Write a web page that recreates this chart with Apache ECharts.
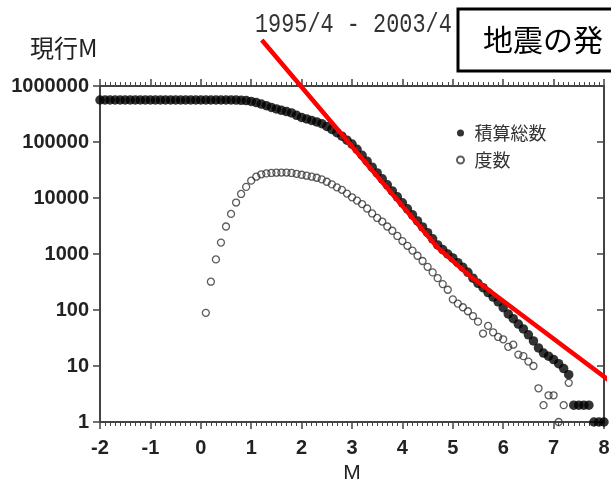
<!DOCTYPE html>
<html><head><meta charset="utf-8">
<script src="https://cdn.jsdelivr.net/npm/echarts@6/dist/echarts.min.js"></script>
<style>html,body{margin:0;padding:0;background:#fff}#c{width:611px;height:484px}</style>
</head><body><div id="c"></div>
<script>
// ---- data ----
const cumM = [-2.0,-1.9,-1.8,-1.7,-1.6,-1.5,-1.4,-1.3,-1.2,-1.1,-1.0,-0.9,-0.8,-0.7,-0.6,-0.5,-0.4,-0.3,-0.2,-0.1,0.0,0.1,0.2,0.3,0.4,0.5,0.6,
  0.7,0.8,0.9,1.0,1.1,1.2,1.3,1.4,1.5,1.6,1.7,1.8,1.9,2.0,2.1,2.2,2.3,2.4,2.5,2.6,2.7,2.8,2.9,3.0,3.1,3.2,3.3,3.4,3.5,3.6,
  3.7,3.8,3.9,4.0,4.1,4.2,4.3,4.4,4.5,4.6,4.7,4.8,4.9,5.0,5.1,5.2,5.3,5.4,5.5,5.6,5.7,5.8,5.9,6.0,6.1,6.2,6.3,6.4,6.5,6.6,
  6.7,6.8,6.9,7.0,7.1,7.2,7.3,7.4,7.5,7.6,7.7,7.8,7.9,8.0];
const cumCount = [562000,562000,562000,562000,562000,562000,562000,562000,562000,562000,562000,562000,562000,562000,562000,562000,562000,562000,562000,562000,562000,562000,562000,562000,562000,562000,562000,
  560000,556000,550000,530000,505000,475000,445000,415000,390000,368000,
  350000,330000,300000,275000,258000,242000,228000,212000,190000,168000,
  147000,127000,108000,92000,74000,58000,45500,35500,28000,22000,
  17200,13400,10500,8200,6400,5000,3900,3050,2400,1870,
  1450,1200,1000,850,700,580,470,370,300,250,
  205,170,140,110,85,70,56,46,36,28,
  21,17,15,13,11,9,7,2,2,2,2,1,1,1];
const freqM = [0.1,0.2,0.3,0.4,0.5,0.6,0.7,0.8,0.9,1.0,1.1,1.2,1.3,1.4,1.5,1.6,1.7,1.8,1.9,2.0,
  2.1,2.2,2.3,2.4,2.5,2.6,2.7,2.8,2.9,3.0,3.1,3.2,3.3,3.4,3.5,3.6,3.7,3.8,3.9,4.0,
  4.1,4.2,4.3,4.4,4.5,4.6,4.7,4.8,4.9,5.0,5.1,5.2,5.3,5.4,5.5,5.6,5.7,5.8,5.9,6.0,
  6.1,6.2,6.3,6.4,6.5,6.6,6.7,6.8,6.9,7.0,7.1,7.2,7.3];
const freqCount = [89,320,800,1600,3100,5200,8300,11800,15800,20400,24000,26500,27500,28000,28300,28500,28500,28000,27000,26000,
  25000,24000,23000,21500,19500,17500,15500,14000,12000,10300,9000,7800,6500,5300,4400,3800,3100,2600,2100,1700,
  1400,1150,930,750,590,470,370,290,230,155,130,112,95,78,62,38,52,40,33,30,
  22,24,16,15,12,10,4,2,3,3,1,2,5];
const redM = [1.21, 4.69, 5.34, 8.14];
const redVal = [6630000, 1334, 405, 5.2];
const xTicks = [-2,-1,0,1,2,3,4,5,6,7,8];
const yTickLabels = ['1','10','100','1000','10000','100000','1000000'];
const seriesNames = ['積算総数','度数'];

const zip = (a,b) => a.map((v,i)=>[v,b[i]]);
const chart = echarts.init(document.getElementById('c'), null, {renderer:'canvas'});
const axisCol = '#444';
const lblFont = {fontFamily:'"Liberation Sans", Arial, sans-serif', fontWeight:'bold', fontSize:20, color:'#222'};
chart.setOption({
  animation:false,
  backgroundColor:'#fff',
  grid:{left:100,right:7,top:86,bottom:62,containLabel:false,outerBoundsMode:'none'},
  legend:{
    left:451, top:118, orient:'vertical', itemWidth:18, itemHeight:7, itemGap:7,
    data:seriesNames,
    textStyle:{fontFamily:'"Noto Sans CJK JP", sans-serif', fontSize:18, lineHeight:20, color:'#333'}
  },
  xAxis:[{
    type:'value', min:-2, max:8, interval:1, position:'bottom',
    name:'M', nameLocation:'middle', nameGap:40,
    nameTextStyle:{fontFamily:'"Liberation Sans", Arial, sans-serif', fontSize:21, color:'#222'},
    axisLine:{show:true,onZero:false,lineStyle:{color:axisCol,width:2}},
    axisTick:{show:true,length:7,lineStyle:{color:axisCol,width:1.5}},
    minorTick:{show:true,splitNumber:10,length:4,lineStyle:{color:axisCol,width:1}},
    splitLine:{show:false},
    axisLabel:Object.assign({margin:16, formatter:v=>String(xTicks.find(t=>t===Math.round(v)))}, lblFont)
  },{
    type:'value', min:-2, max:8, interval:1, position:'top',
    axisLine:{show:true,onZero:false,lineStyle:{color:axisCol,width:2}},
    axisTick:{show:true,length:7,lineStyle:{color:axisCol,width:1.5}},
    minorTick:{show:true,splitNumber:10,length:4,lineStyle:{color:axisCol,width:1}},
    splitLine:{show:false}, axisLabel:{show:false}
  }],
  yAxis:[{
    type:'log', min:1, max:1000000, logBase:10, position:'left',
    axisLine:{show:true,onZero:false,lineStyle:{color:axisCol,width:2}},
    axisTick:{show:true,length:7,lineStyle:{color:axisCol,width:1.5}},
    splitLine:{show:false},
    axisLabel:Object.assign({margin:11, formatter:v=>yTickLabels[Math.round(Math.log10(v))]}, lblFont)
  },{
    type:'log', min:1, max:1000000, logBase:10, position:'right',
    axisLine:{show:true,onZero:false,lineStyle:{color:axisCol,width:2}},
    axisTick:{show:true,inside:true,length:7,lineStyle:{color:axisCol,width:1.5}},
    splitLine:{show:false}, axisLabel:{show:false}
  }],
  series:[{
    name:seriesNames[0], type:'scatter', symbol:'circle', symbolSize:9.5,
    data:zip(cumM,cumCount), itemStyle:{color:'#000'}, z:2
  },{
    name:seriesNames[1], type:'scatter', symbol:'circle', symbolSize:7,
    data:zip(freqM,freqCount),
    itemStyle:{color:'rgba(255,255,255,0)', borderColor:'#333', borderWidth:1.3}, z:3
  },{
    name:'red', type:'line', data:zip(redM,redVal), clip:false, symbol:'none',
    lineStyle:{color:'#ff0000', width:4.5}, z:10, silent:true
  }],
  graphic:[
    {type:'text', x:255, y:25, scaleX:0.81, style:{text:'1995/4 - 2003/4', font:'27px "Liberation Mono", monospace', fill:'#333', verticalAlign:'middle', textVerticalAlign:'middle'}},
    {type:'text', x:30, y:48, style:{text:'現行M', font:'24px "Noto Sans CJK JP", sans-serif', fill:'#222', verticalAlign:'middle', textVerticalAlign:'middle'}},
    {type:'rect', shape:{x:458, y:9, width:170, height:62}, style:{fill:'#fff', stroke:'#000', lineWidth:3}, z:20},
    {type:'text', x:483, y:40, z:21, style:{text:'地震の発', font:'30px "Noto Sans CJK JP", sans-serif', fill:'#000', verticalAlign:'middle', textVerticalAlign:'middle'}}
  ]
});
</script></body></html>
